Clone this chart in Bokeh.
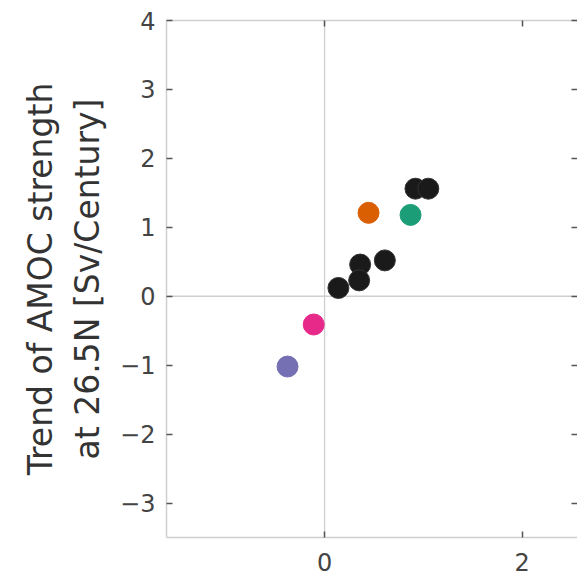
from bokeh.plotting import figure
from bokeh.models import Range1d, FixedTicker, LinearAxis, Span
from bokeh.embed import file_html
from bokeh.resources import INLINE

# data
x_black = [0.92, 1.05, 0.61, 0.36, 0.35, 0.14]
y_black = [1.56, 1.56, 0.52, 0.46, 0.23, 0.12]
x_color = [0.445, 0.87, -0.11, -0.375]
y_color = [1.21, 1.18, -0.41, -1.02]
c_color = ["#d95f02", "#1b9e77", "#e7298a", "#7570b3"]
y_ticks = [-3, -2, -1, 0, 1, 2, 3, 4]
x_ticks = [0, 2]

def lab(v):
    return str(v).replace("-", "\u2212")

p = figure(width=577, height=575, output_backend="svg", toolbar_location=None,
           x_range=Range1d(-1.6, 2.56), y_range=Range1d(-3.5, 4.0),
           min_border_left=166, min_border_right=0, min_border_top=20, min_border_bottom=38,
           background_fill_color="white", border_fill_color="white")
p.outline_line_color = None
p.xgrid.visible = False
p.ygrid.visible = False

font = "DejaVu Sans"
spine = "#cfcfcf"
tickc = "#555555"

for ax in (p.xaxis[0], p.yaxis[0]):
    ax.axis_line_color = spine
    ax.axis_line_width = 1.5
    ax.major_tick_in = 6
    ax.major_tick_out = 0
    ax.major_tick_line_color = tickc
    ax.major_tick_line_width = 1.5
    ax.minor_tick_line_color = None
    ax.major_label_text_font = font
    ax.major_label_text_font_size = "24px"
    ax.major_label_text_color = "#444444"

p.yaxis[0].ticker = FixedTicker(ticks=y_ticks)
p.yaxis[0].major_label_overrides = {v: lab(v) for v in y_ticks}
p.yaxis[0].major_label_standoff = 11
p.yaxis[0].axis_label = "Trend of AMOC strength\nat 26.5N [Sv/Century]"
p.yaxis[0].axis_label_text_font = font
p.yaxis[0].axis_label_text_font_size = "33px"
p.yaxis[0].axis_label_text_font_style = "normal"
p.yaxis[0].axis_label_text_color = "#333333"
p.yaxis[0].axis_label_standoff = 10

p.xaxis[0].ticker = FixedTicker(ticks=x_ticks)
p.xaxis[0].major_label_overrides = {v: lab(v) for v in x_ticks}
p.xaxis[0].major_label_standoff = 15

top = LinearAxis(ticker=FixedTicker(ticks=x_ticks))
right = LinearAxis(ticker=FixedTicker(ticks=y_ticks))
top.axis_line_color = spine
right.axis_line_color = None
top.major_label_overrides = {v: "" for v in x_ticks}
right.major_label_overrides = {v: "" for v in y_ticks}
for ax in (top, right):
    ax.axis_line_width = 1.5
    ax.major_tick_in = 6
    ax.major_tick_out = 0
    ax.major_tick_line_color = tickc
    ax.major_tick_line_width = 1.5
    ax.minor_tick_line_color = None
    ax.major_label_text_font_size = "1px"
    ax.major_label_standoff = 0
p.add_layout(top, "above")
p.add_layout(right, "right")

p.add_layout(Span(location=0, dimension="width", line_color=spine, line_width=1.3, level="underlay"))
p.add_layout(Span(location=0, dimension="height", line_color=spine, line_width=1.3, level="underlay"))

p.scatter(x_black, y_black, size=21, fill_color="#1a1a1a", line_color="#333333", line_width=1)
p.scatter(x_color, y_color, size=21, fill_color=c_color, line_color=c_color, line_width=1)

open("out.html", "w").write(file_html(p, INLINE))
